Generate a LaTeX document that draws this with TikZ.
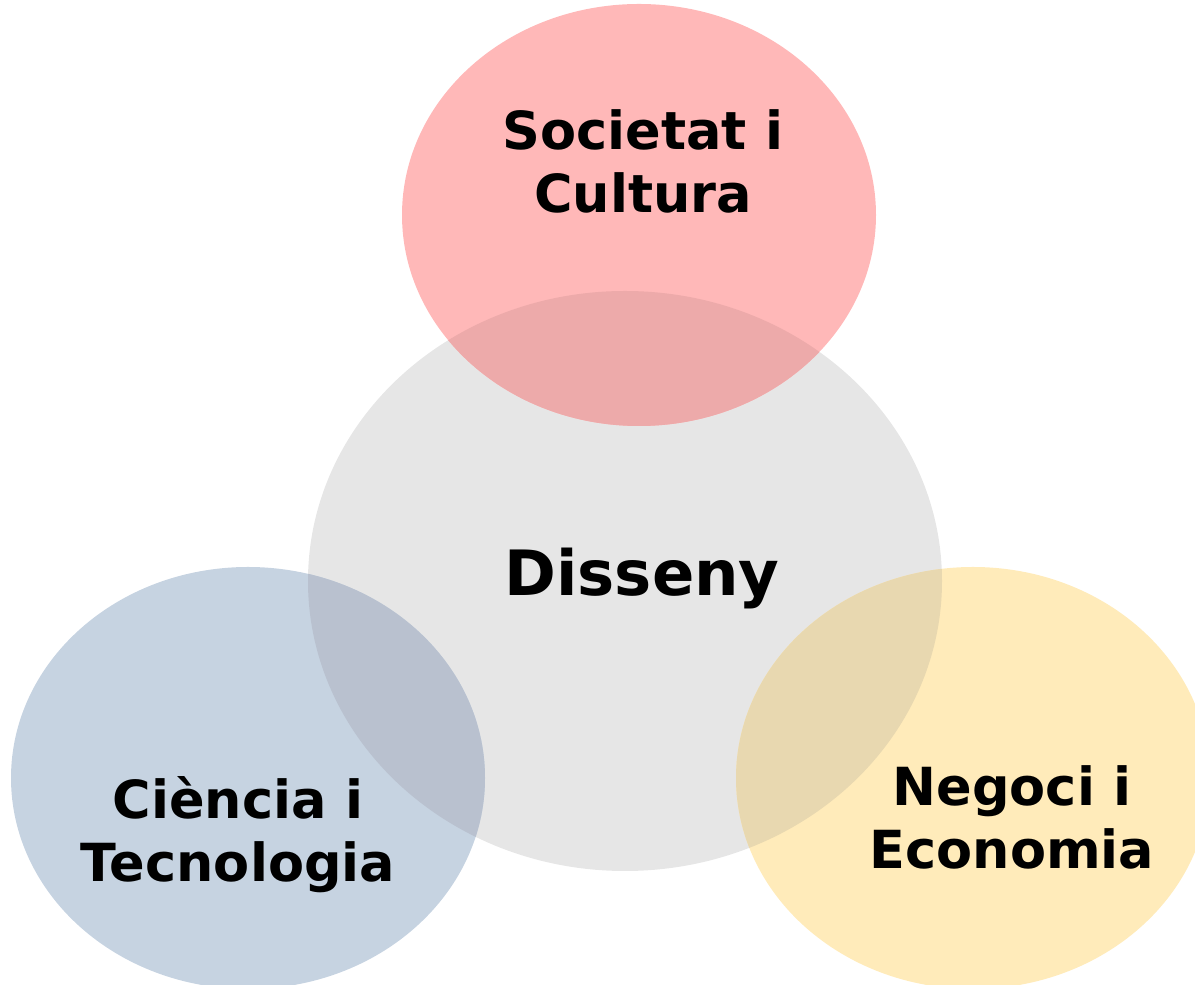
\documentclass[tikz,border=0pt]{standalone}
\usepackage{fontspec}
\setmainfont{DejaVu Sans}
\usetikzlibrary{positioning}
\definecolor{disgray}{HTML}{E6E6E6}
\definecolor{socred}{HTML}{FFB8B8}
\definecolor{socmix}{HTML}{EDAAAA}
\definecolor{cieblue}{HTML}{C6D3E1}
\definecolor{ciemix}{HTML}{B9C1CF}
\definecolor{negyel}{HTML}{FFEBBA}
\definecolor{negmix}{HTML}{E8D8B0}
\tikzset{topic/.style={font=\bfseries\fontsize{52.5}{63}\selectfont,align=center,anchor=base,text=black}}
\tikzset{maintopic/.style={font=\bfseries\fontsize{62.5}{74}\selectfont,anchor=base,text=black}}
\tikzset{big/.style={x radius=317,y radius=290}}
\tikzset{small/.style={x radius=237,y radius=211}}

\begin{document}
\begin{tikzpicture}[x=1pt,y=1pt]
\useasboundingbox (0,0) rectangle (1195,985);
% the four fields
\coordinate (cdis) at (625,404);
\coordinate (csoc) at (639,770);
\coordinate (ccie) at (248,207);
\coordinate (cneg) at (973,207);
\fill[disgray] (cdis) ellipse [big];
\fill[socred] (csoc) ellipse [small];
\fill[cieblue] (ccie) ellipse [small];
\fill[negyel] (cneg) ellipse [small];
% overlaps with Disseny
\begin{scope}
	\clip (cdis) ellipse [big];
	\fill[socmix] (csoc) ellipse [small];
	\fill[ciemix] (ccie) ellipse [small];
	\fill[negmix] (cneg) ellipse [small];
\end{scope}
% labels (base = last line)
\node (dis) [maintopic] at (642,389) {Disseny};
\node (soc) [topic] at (643,772) {Societat i\\Cultura};
\node (cie) [topic] at (238,103) {Ciència i\\Tecnologia};
\node (neg) [topic] at (1012,116) {Negoci i\\Economia};
\end{tikzpicture}
\end{document}
